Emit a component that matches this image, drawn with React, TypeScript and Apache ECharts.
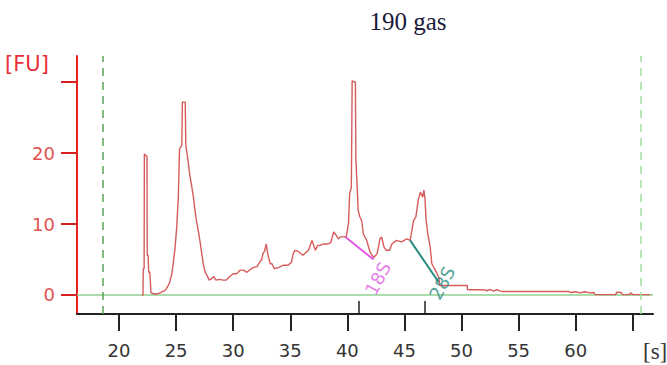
import React, { useEffect, useRef } from "react";
import * as echarts from "echarts";

// Trace: migration time [s] and fluorescence [FU]
const traceTime = [
  22.0, 22.1, 22.12, 22.2, 22.22, 22.45, 22.47, 22.55, 22.6, 22.7, 22.8, 23.2, 23.6, 24.0, 24.15, 24.4, 24.6, 24.75,
  24.9, 25.05, 25.2, 25.3, 25.5, 25.55, 25.8, 25.85, 26.0, 26.2, 26.35, 26.5, 26.65, 26.8, 26.95, 27.1, 27.25, 27.4,
  27.55, 27.7, 27.9, 28.1, 28.3, 28.5, 28.8, 29.1, 29.4, 29.7, 30.0, 30.3, 30.6, 30.9, 31.2, 31.5, 31.8, 32.1, 32.3,
  32.5, 32.6, 32.75, 32.9, 33.0, 33.1, 33.25, 33.4, 33.6, 34.0, 34.4, 34.8, 35.1, 35.25, 35.4, 35.6, 35.8, 36.1, 36.3,
  36.6, 36.75, 36.9, 37.05, 37.2, 37.4, 37.6, 37.9, 38.3, 38.55, 38.8, 39.0, 39.2, 39.4, 39.6, 39.9, 40.1, 40.2, 40.35,
  40.42, 40.7, 40.75, 40.95, 41.1, 41.25, 41.4, 41.7, 41.85, 42.0, 42.3, 42.6, 42.75, 42.85, 43.0, 43.2, 43.4, 43.7,
  43.9, 44.3, 44.75, 45.2, 45.5, 45.8, 46.0, 46.2, 46.4, 46.6, 46.7, 46.8, 46.9, 47.05, 47.25, 47.4, 47.7, 48.0, 48.1,
  50.5, 50.52, 52.0, 52.2, 52.5, 52.8, 53.1, 53.4, 53.7, 59.4, 59.6, 60.0, 60.4, 60.8, 61.2, 61.6, 61.7, 63.5, 63.6,
  64.0, 64.1, 64.7, 64.8, 65.0, 66.5,
];
const traceFU = [
  0, 0, 3.7, 3.7, 19.9, 19.5, 5.6, 5.6, 3.2, 3.2, 0.3, 0.1, 0.3, 0.6, 0.9, 1.6, 2.75, 4.5,
  6.5, 9.5, 14, 20.6, 21.1, 27.2, 27.2, 21.1, 19.5, 16.9, 15.5, 14, 12, 10.3, 9, 7.5, 5.8, 4.2,
  3.2, 2.8, 2.1, 2.3, 2.6, 2.1, 2.2, 2.1, 2.1, 2.6, 3.0, 3.0, 3.5, 3.5, 3.2, 3.6, 3.9, 4.0, 4.6,
  5.0, 5.8, 6.2, 7.2, 6.0, 5.3, 4.4, 4.4, 3.7, 3.9, 4.2, 4.2, 4.6, 5.8, 6.3, 6.2, 6.0, 5.6, 5.9,
  6.3, 7.0, 7.7, 7.0, 6.3, 7.0, 7.0, 7.2, 7.2, 7.4, 8.9, 8.5, 7.9, 8.2, 8.2, 8.2, 10.1, 14.3, 15.2,
  30.2, 30.0, 19, 11.9, 11.0, 10.5, 8.6, 7.7, 6.8, 6.0, 5.3, 5.8, 7.0, 7.9, 8.2, 6.8, 6.3, 6.3,
  7.2, 7.7, 7.5, 7.9, 7.7, 10.5, 11.0, 13.3, 14.5, 13.8, 14.8, 13.5, 10.5, 8.6, 6.8, 4.4, 3.5, 2.5, 1.34,
  1.34, 0.73, 0.73, 0.6, 0.8, 0.55, 0.75, 0.55, 0.49, 0.49, 0.35, 0.45, 0.3, 0.45, 0.3, 0.35, 0.05, 0.05, 0.4,
  0.35, 0.05, 0.05, 0.3, 0.05, 0.05,
];

// Axis ticks and labels
const xMin = 16.32;
const xMax = 66.77;
const xTickValues = [20, 25, 30, 35, 40, 45, 50, 55, 60, 65];
const xLabelValues = [20, 25, 30, 35, 40, 45, 50, 55, 60];
const yTickValues = [0, 10, 20, 30];
const yLabelValues = [0, 10, 20];
const peakMarks = [41.0, 46.8];

// Ladder markers (dashed verticals)
const lowerMarker = 18.6;
const upperMarker = 65.7;

// Zero baseline [s, FU]
const zeroLine = [[xMin, 0], [xMax, 0]];

// rRNA baseline segments [s, FU]
const line18S = [[39.8, 8.2], [42.3, 5.0]];
const line28S = [[45.5, 7.7], [48.0, 1.8]];
const label18S = [42.67, 2.33];
const label28S = [48.3, 1.7];

const titleText = "190 gas";

export default function App() {
  const ref = useRef<HTMLDivElement>(null);
  useEffect(() => {
    if (!ref.current) return;
    const chart = echarts.init(ref.current, undefined, { renderer: "svg" });
    const trace = traceTime.map((t, i) => [t, traceFU[i]]);
    chart.setOption({
      animation: false,
      backgroundColor: "#ffffff",
      grid: { left: 77, right: 14, top: 56, bottom: 51, containLabel: false },
      xAxis: [
        {
          type: "value",
          min: xMin,
          max: xMax,
          position: "bottom",
          axisLine: { onZero: false, lineStyle: { color: "#222", width: 2 } },
          axisTick: { show: true, customValues: xTickValues, length: 17, lineStyle: { color: "#222", width: 2 } },
          axisLabel: {
            customValues: xLabelValues,
            color: "#333",
            fontSize: 18,
            fontFamily: "DejaVu Sans",
            margin: 27,
          },
          splitLine: { show: false },
        },
        {
          type: "value",
          min: xMin,
          max: xMax,
          position: "bottom",
          offset: 0,
          axisLine: { show: false, onZero: false },
          axisTick: { show: true, inside: true, customValues: peakMarks, length: 13, lineStyle: { color: "#222", width: 1.5 } },
          axisLabel: { show: false },
          splitLine: { show: false },
        },
      ],
      yAxis: {
        type: "value",
        min: -2.68,
        max: 33.7,
        axisLine: { show: true, lineStyle: { color: "#e82020", width: 2 } },
        axisTick: { show: true, customValues: yTickValues, length: 16, lineStyle: { color: "#d42020", width: 2 } },
        axisLabel: {
          customValues: yLabelValues,
          color: "#e05050",
          fontSize: 18,
          fontFamily: "DejaVu Sans",
          margin: 22,
        },
        splitLine: { show: false },
      },
      graphic: [
        {
          type: "text",
          x: 408,
          y: 21,
          style: {
            text: titleText,
            fontFamily: "Liberation Serif",
            fontSize: 25,
            fill: "#1b1b3a",
            textAlign: "center",
            textVerticalAlign: "middle",
          },
        },
        {
          type: "text",
          x: 5,
          y: 64,
          style: {
            text: "[FU]",
            fontFamily: "DejaVu Sans",
            fontSize: 21,
            fill: "#e8303a",
            textAlign: "left",
            textVerticalAlign: "middle",
          },
        },
        {
          type: "text",
          x: 643,
          y: 351,
          style: {
            text: "[s]",
            fontFamily: "Liberation Serif",
            fontSize: 23,
            fill: "#333",
            textAlign: "left",
            textVerticalAlign: "middle",
          },
        },
      ],
      series: [
        {
          type: "line",
          data: zeroLine,
          symbol: "none",
          silent: true,
          lineStyle: { color: "#8fd08f", width: 1.3 },
          z: 2,
        },
        {
          type: "line",
          data: trace,
          showSymbol: false,
          symbol: "none",
          lineStyle: { color: "#d65c5c", width: 1.4 },
          z: 3,
          markLine: {
            silent: true,
            symbol: "none",
            label: { show: false },
            data: [
              { xAxis: lowerMarker, lineStyle: { color: "#5a9e5a", type: [8, 6], width: 1.5 } },
              { xAxis: upperMarker, lineStyle: { color: "#a4dba4", type: [8, 6], width: 1.5 } },
            ],
          },
        },
        {
          type: "line",
          data: line18S,
          symbol: "none",
          lineStyle: { color: "#e45ae4", width: 2 },
          z: 4,
        },
        {
          type: "line",
          data: line28S,
          symbol: "none",
          lineStyle: { color: "#2a8a80", width: 2 },
          z: 4,
        },
        {
          type: "scatter",
          data: [label18S],
          symbolSize: 0,
          z: 5,
          label: {
            show: true,
            formatter: "18S",
            position: "inside",
            rotate: 62,
            color: "#e060e0",
            fontSize: 18,
            fontFamily: "DejaVu Sans",
          },
        },
        {
          type: "scatter",
          data: [label28S],
          symbolSize: 0,
          z: 5,
          label: {
            show: true,
            formatter: "28S",
            position: "inside",
            rotate: 62,
            color: "#2a8a80",
            fontSize: 18,
            fontFamily: "DejaVu Sans",
          },
        },
      ],
    });
    return () => chart.dispose();
  }, []);
  return (
    <div
      ref={ref}
      style={{ position: "fixed", left: 0, top: 0, width: 667, height: 365, background: "#fff" }}
    />
  );
}
